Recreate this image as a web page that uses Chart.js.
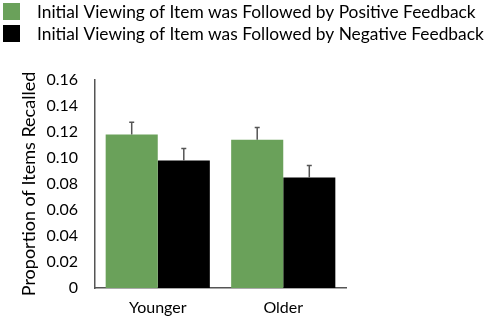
<!DOCTYPE html>
<html>
<head>
<meta charset="utf-8">
<script src="https://cdn.jsdelivr.net/npm/chart.js@4"></script>
<style>
  html, body { margin: 0; padding: 0; background: #fff; }
  #wrap { width: 490px; height: 322px; }
</style>
</head>
<body>
<div id="wrap"><canvas id="recallChart"></canvas></div>
<script>
// Data
const ageGroups = ['Younger', 'Older'];
const positiveValues = [0.118, 0.114];
const positiveErrors = [0.0095, 0.0095];
const negativeValues = [0.098, 0.085];
const negativeErrors = [0.0093, 0.0092];
const yTickLabels = ['0', '0.02', '0.04', '0.06', '0.08', '0.10', '0.12', '0.14', '0.16'];

const FONT = 'Lato, "Open Sans", sans-serif';

// Draw upward error bars from each bar top
const errorBarPlugin = {
    id: 'errorBars',
    afterDatasetsDraw(chart) {
        const ctx = chart.ctx;
        const yScale = chart.scales.y;
        ctx.save();
        ctx.strokeStyle = '#555';
        ctx.lineWidth = 1.5;
        chart.data.datasets.forEach((ds, i) => {
            const meta = chart.getDatasetMeta(i);
            meta.data.forEach((bar, j) => {
                const top = yScale.getPixelForValue(ds.data[j] + ds.errors[j]);
                ctx.beginPath();
                ctx.moveTo(bar.x, bar.y);
                ctx.lineTo(bar.x, top);
                ctx.moveTo(bar.x - 2.5, top);
                ctx.lineTo(bar.x + 2.5, top);
                ctx.stroke();
            });
        });
        ctx.restore();
    }
};

// Legend across the full width (the built-in one is cut by the right padding)
const wideLegendPlugin = {
    id: 'wideLegend',
    afterDraw(chart) {
        const ctx = chart.ctx;
        ctx.save();
        // fit the longest label to ~447px like the original
        ctx.font = '17px ' + FONT;
        const widest = Math.max(...chart.data.datasets.map(ds => ctx.measureText(ds.label).width));
        const size = Math.min(19, 17 * 447 / widest);
        ctx.font = size.toFixed(2) + 'px ' + FONT;
        ctx.textBaseline = 'middle';
        chart.data.datasets.forEach((ds, i) => {
            const y = 3 + i * 22;
            ctx.fillStyle = ds.backgroundColor;
            ctx.fillRect(3, y, 17, 17);
            ctx.fillStyle = '#000';
            ctx.fillText(ds.label, 37, y + 9);
        });
        ctx.restore();
    }
};

const ctx = document.getElementById('recallChart').getContext('2d');
const recallChart = new Chart(ctx, {
    type: 'bar',
    data: {
        labels: ageGroups,
        datasets: [
            {
                label: 'Initial Viewing of Item was Followed by Positive Feedback',
                data: positiveValues,
                errors: positiveErrors,
                backgroundColor: '#6aa15a',
                borderWidth: 0
            },
            {
                label: 'Initial Viewing of Item was Followed by Negative Feedback',
                data: negativeValues,
                errors: negativeErrors,
                backgroundColor: '#000000',
                borderWidth: 0
            }
        ]
    },
    options: {
        responsive: true,
        maintainAspectRatio: false,
        animation: false,
        layout: { padding: { left: 18, right: 144, top: 80, bottom: 0 } },
        datasets: {
            bar: { categoryPercentage: 0.83, barPercentage: 1.0 }
        },
        plugins: {
            legend: { display: false },
            tooltip: { enabled: false }
        },
        scales: {
            x: {
                grid: { display: false, drawTicks: false },
                border: { color: '#555', width: 1.5 },
                ticks: { color: '#000', padding: 12, font: { family: FONT, size: 16, lineHeight: 1 } },
                afterFit: (scale) => { scale.height = 34; }
            },
            y: {
                min: 0,
                max: 0.16,
                grid: { display: false, drawTicks: true, tickLength: 3, color: '#555' },
                border: { color: '#555', width: 1.5 },
                ticks: {
                    stepSize: 0.02,
                    color: '#000',
                    padding: 14,
                    font: { family: FONT, size: 16 },
                    callback: (value, index) => yTickLabels[index]
                },
                title: {
                    display: true,
                    text: 'Proportion of Items Recalled',
                    color: '#000',
                    padding: { top: 0, bottom: 0 },
                    font: { family: FONT, size: 18 }
                },
                afterFit: (scale) => { scale.width = 77; }
            }
        }
    },
    plugins: [errorBarPlugin, wideLegendPlugin]
});
</script>
</body>
</html>
